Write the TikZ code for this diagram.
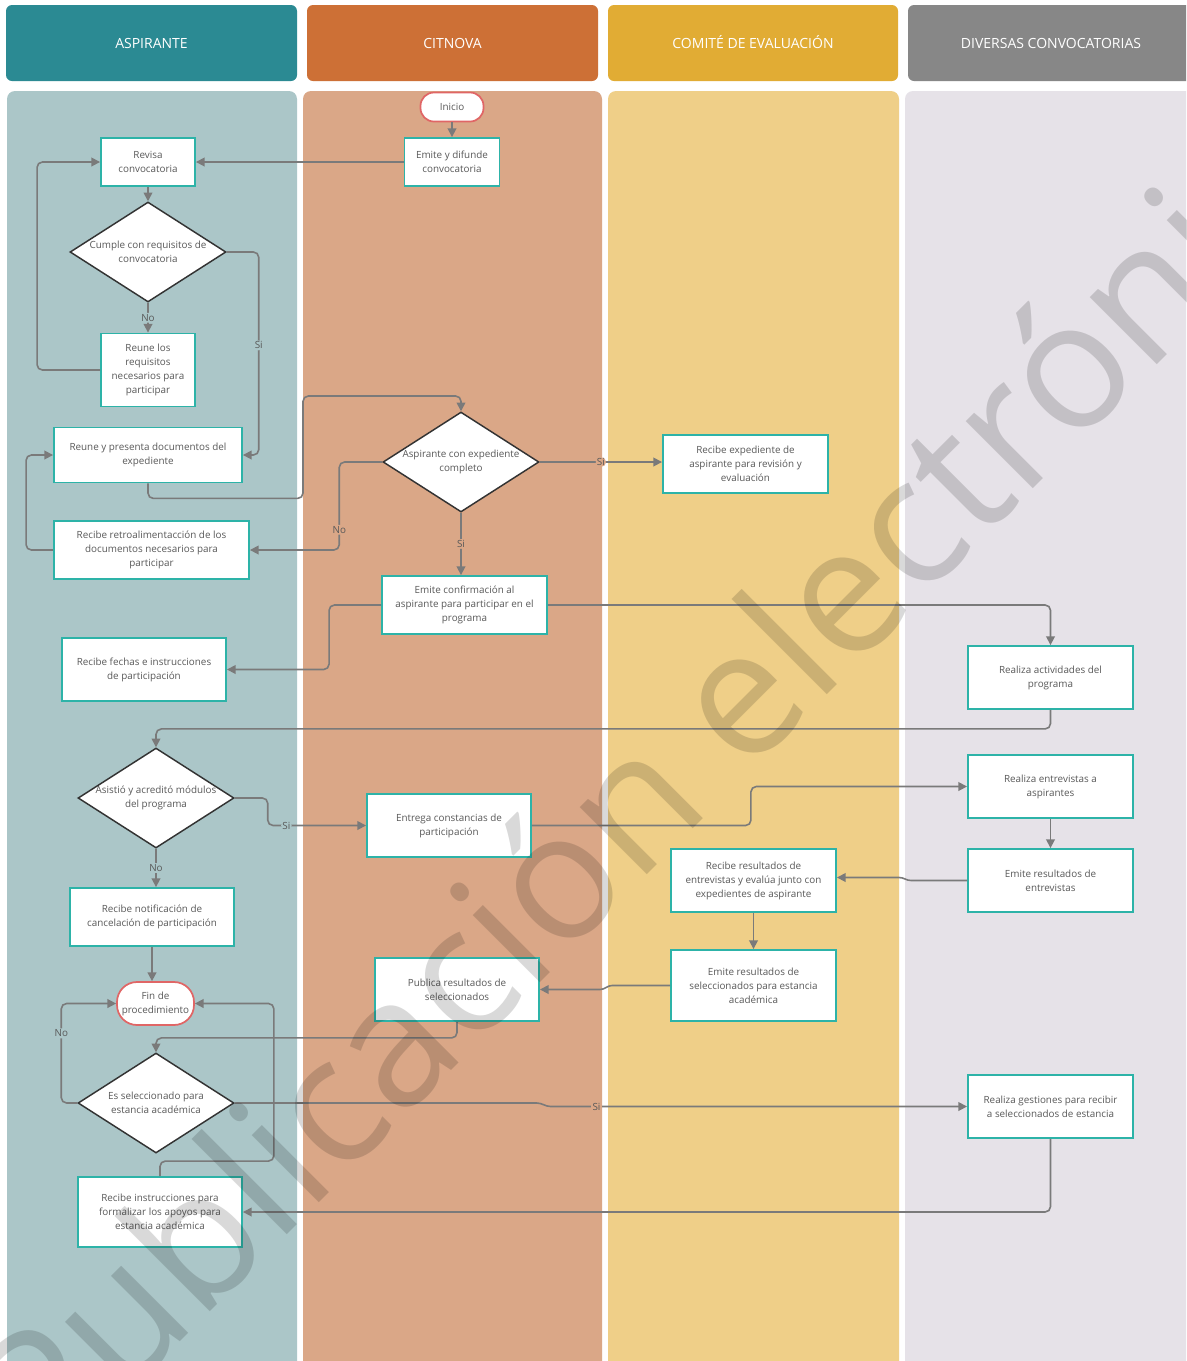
\documentclass[tikz,border=0pt]{standalone}
\usepackage{fontspec}
\setmainfont{Open Sans}
\usetikzlibrary{shapes.geometric,arrows.meta,calc}
\definecolor{hTeal}{HTML}{2B8A93}
\definecolor{hOr}{HTML}{CD7036}
\definecolor{hGold}{HTML}{E1AC34}
\definecolor{hGray}{HTML}{878787}
\definecolor{laneTeal}{HTML}{ABC6C8}
\definecolor{laneOr}{HTML}{DAA787}
\definecolor{laneGold}{HTML}{EFCF88}
\definecolor{laneGray}{HTML}{E6E2E8}
\definecolor{boxTeal}{HTML}{2DB3A8}
\definecolor{termRed}{HTML}{E06666}
\definecolor{diaBorder}{HTML}{333333}
\definecolor{txt}{HTML}{595959}
\definecolor{lineGray}{HTML}{7A7A7A}
\newcommand\mybody{\fontsize{7.4pt}{10.5pt}\selectfont}
\newcommand\myhdr{\fontsize{10.5pt}{12pt}\selectfont}
\tikzset{
  wh/.style 2 args={minimum width=#1*0.75pt, minimum height=#2*0.75pt},
  proc/.style={draw=boxTeal, line width=1.4pt, fill=white, text=txt, font=\mybody, align=center, inner sep=1pt},
  term/.style={draw=termRed, line width=1.3pt, fill=white, text=txt, font=\mybody, align=center, inner sep=0pt},
  dia/.style={diamond, draw=diaBorder, line width=1.1pt, fill=white, inner sep=0pt, minimum width=156*0.75pt, minimum height=100*0.75pt},
  dtxt/.style={text=txt, font=\mybody, align=center},
  hdrbox/.style={rounded corners=4.5pt, text=white, font=\myhdr, inner sep=0pt, text height=7.5pt, text depth=0pt},
  arr/.style={draw=lineGray, line width=1.2pt, rounded corners=4pt, -{Triangle[length=6.5pt,width=6.5pt]}},
  lbl/.style={font=\mybody, text=txt, inner sep=1pt},
}
\begin{document}
\begin{tikzpicture}[x=0.75pt,y=-0.75pt]
\useasboundingbox (0,0) rectangle (1186,1361);
\clip (0,0) rectangle (1186,1361);
\fill[white] (0,0) rectangle (1186,1361);
% lanes
\fill[laneTeal, rounded corners=6pt] (7,91) rectangle (297,1400);
\fill[laneOr, rounded corners=6pt] (303,91) rectangle (602,1400);
\fill[laneGold, rounded corners=6pt] (608,91) rectangle (899,1400);
\fill[laneGray, rounded corners=6pt] (905,91) rectangle (1200,1400);
% headers
\node[hdrbox, fill=hTeal, wh={291}{76}] (hA) at (151.5,43) {ASPIRANTE};
\node[hdrbox, fill=hOr, wh={291}{76}] (hB) at (452.5,43) {CITNOVA};
\node[hdrbox, fill=hGold, wh={290}{76}] (hC) at (753,43) {COMITÉ DE EVALUACIÓN};
\node[hdrbox, fill=hGray, wh={286}{76}] (hD) at (1051,43) {DIVERSAS CONVOCATORIAS};
% nodes
\node[term, wh={63}{29}, rounded corners=10pt] (ini) at (452,107) {Inicio};
\node[proc, wh={95}{48}] (emite) at (452,162) {Emite y difunde\\convocatoria};
\node[proc, wh={94}{48}] (revisa) at (148,162) {Revisa\\convocatoria};
\node[dia, label={[dtxt]center:{Cumple con requisitos de\\convocatoria}}] (cumple) at (148,252) {};
\node[proc, wh={94}{73}] (reune) at (148,370) {Reune los\\requisitos\\necesarios para\\participar};
\node[proc, wh={188}{55}] (presenta) at (148,455) {Reune y presenta documentos del\\expediente};
\node[proc, wh={195}{58}] (retro) at (151.5,550) {Recibe retroalimentacción de los\\documentos necesarios para\\participar};
\node[proc, wh={164}{63}] (fechas) at (144,669.5) {Recibe fechas e instrucciones\\de participación};
\node[dia, label={[dtxt]center:{Aspirante con expediente\\completo}}] (exp) at (461,462) {};
\node[proc, wh={165}{58}] (recexp) at (745.5,464) {Recibe expediente de\\aspirante para revisión y\\evaluación};
\node[proc, wh={165}{58}] (conf) at (464.5,605) {Emite confirmación al\\aspirante para participar en el\\programa};
\node[proc, wh={165}{63}] (activ) at (1050.5,677.5) {Realiza actividades del\\programa};
\node[dia, label={[dtxt]center:{Asistió y acreditó módulos\\del programa}}] (asist) at (156,798) {};
\node[proc, wh={164}{63}] (entrega) at (449,825.5) {Entrega constancias de\\participación};
\node[proc, wh={165}{63}] (entrev) at (1050.5,786.5) {Realiza entrevistas a\\aspirantes};
\node[proc, wh={165}{63}] (emres) at (1050.5,880.5) {Emite resultados de\\entrevistas};
\node[proc, wh={165}{63}] (recres) at (753.5,880.5) {Recibe resultados de\\entrevistas y evalúa junto con\\expedientes de aspirante};
\node[proc, wh={164}{58}] (notif) at (152,917) {Recibe notificación de\\cancelación de participación};
\node[proc, wh={165}{71}] (emsel) at (753.5,985.5) {Emite resultados de\\seleccionados para estancia\\académica};
\node[proc, wh={164}{63}] (publica) at (457,989.5) {Publica resultados de\\seleccionados};
\node[term, wh={77}{43}, rounded corners=15pt] (fin) at (155.5,1003.5) {Fin de\\procedimiento};
\node[dia, label={[dtxt]center:{Es seleccionado para\\estancia académica}}] (esel) at (156,1103) {};
\node[proc, wh={165}{63}] (gest) at (1050.5,1106.5) {Realiza gestiones para recibir\\a seleccionados de estancia};
\node[proc, wh={164}{70}] (instr) at (160,1212) {Recibe instrucciones para\\formalizar los apoyos para\\estancia académica};
% connectors
\draw[arr] (ini) -- (emite);
\draw[arr] (emite.west) -- (revisa.east);
\draw[arr] (revisa) -- (cumple);
\draw[arr] (cumple.south) -- node[lbl, fill=laneTeal]{No} (reune.north);
\draw[arr] (reune.west) -- ++(-63,0) |- (revisa.west);
\draw[arr] (cumple.east) -- ++(32,0) |- node[lbl, fill=laneTeal, pos=0.23]{Si} (presenta.east);
\draw[arr] (presenta.south) -- ++(0,15) -| (303,396) -| (exp.north);
\draw[arr] (exp.west) -- ++(-43,0) |- node[lbl, fill=laneOr, pos=0.385]{No} (retro.east);
\draw[arr] (retro.west) -- ++(-27,0) |- (presenta.west);
\draw[arr] (exp.east) -- node[lbl, fill=laneOr]{Si} (recexp.west |- exp.east);
\draw[arr] (exp.south) -- node[lbl, fill=laneOr]{Si} (exp.south |- conf.north);
\draw[arr] (conf.west) -- ++(-52,0) |- (fechas.east);
\draw[arr] (conf.east) -| (activ.north);
\draw[arr] (activ.south) -- ++(0,19) -| (asist.north);
\draw[arr] (asist.east) -- ++(33,0) |- node[lbl, fill=laneTeal, pos=0.595]{Si} (entrega.west);
\draw[arr] (asist.south) -- node[lbl, fill=laneTeal]{No} (asist.south |- notif.north);
\draw[arr] (entrega.east) -- ++(219,0) |- (entrev.west);
\draw[arr] (entrev) -- (emres);
\draw[arr, rounded corners=0pt] (emres.west) -- ++(-56,0) to[out=180,in=0] ++(-12,-3) -- (recres.east |- 0,877.5);
\draw[arr] (recres) -- (emsel);
\draw[arr, rounded corners=0pt] (emsel.west) -- ++(-58,0) to[out=180,in=0] ++(-12,4) -- (publica.east);
\draw[arr] (notif.south) -- (notif.south |- fin.north);
\draw[arr] (publica.south) -- ++(0,16) -| (esel.north);
\draw[arr] (esel.west) -- ++(-16,0) |- node[lbl, fill=laneTeal, pos=0.35]{No} (fin.west);
\draw[arr, rounded corners=0pt] (esel.east) -- ++(302,0) to[out=0,in=180] ++(14,3.5) -- node[lbl, fill=laneOr, pos=0.11]{Si} (gest.west);
\draw[arr] (instr.north) -- ++(0,-15) -| ([xshift=79*0.75pt]fin.east) -- (fin.east);
\draw[arr] (gest.south) |- (instr.east);
% watermark
\node[rotate=45, anchor=base, opacity=0.15, text=black, inner sep=0pt,
  font=\fontsize{133pt}{135pt}\selectfont] (wm) at (716,806) {Publicación electrónica};
\end{tikzpicture}
\end{document}
